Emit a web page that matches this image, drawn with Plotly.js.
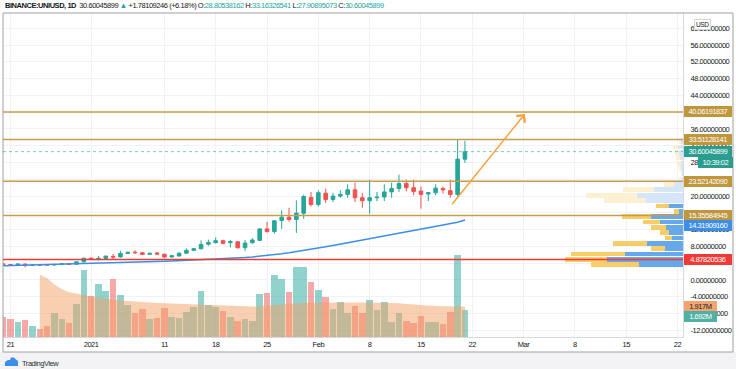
<!DOCTYPE html>
<html><head><meta charset="utf-8">
<script src="https://cdn.plot.ly/plotly-3.0.1.min.js"></script>
<style>html,body{margin:0;padding:0;background:#fff;}#chart{width:736px;height:369px;}svg text{letter-spacing:-0.45px;}</style>
</head><body><div id="chart"></div>
<script>
// ---------------- data ----------------
const dates = ['2020-12-20','2020-12-21','2020-12-22','2020-12-23','2020-12-24','2020-12-25','2020-12-26','2020-12-27','2020-12-28','2020-12-29','2020-12-30','2020-12-31',
'2021-01-01','2021-01-02','2021-01-03','2021-01-04','2021-01-05','2021-01-06','2021-01-07','2021-01-08','2021-01-09','2021-01-10','2021-01-11','2021-01-12','2021-01-13','2021-01-14','2021-01-15','2021-01-16','2021-01-17','2021-01-18','2021-01-19','2021-01-20','2021-01-21','2021-01-22','2021-01-23','2021-01-24','2021-01-25','2021-01-26','2021-01-27','2021-01-28','2021-01-29','2021-01-30','2021-01-31',
'2021-02-01','2021-02-02','2021-02-03','2021-02-04','2021-02-05','2021-02-06','2021-02-07','2021-02-08','2021-02-09','2021-02-10','2021-02-11','2021-02-12','2021-02-13','2021-02-14','2021-02-15','2021-02-16','2021-02-17','2021-02-18','2021-02-19','2021-02-20','2021-02-21'];
const open  = [3.85,3.70,3.55,3.80,3.50,3.62,3.62,3.58,3.70,3.90,3.78,4.32, 5.20,5.05,5.15,5.62,5.50,6.33,6.65,6.50,6.12,6.45,6.15,5.48,5.72,6.40,7.08,7.45,8.55,8.90,9.38,8.90,9.13,7.69,8.89,9.45,12.18,11.54,14.18,14.98,14.42,15.90,19.70, 18.00,20.70,19.20,20.00,20.40,21.50,19.60,18.90,19.60,19.80,21.00,21.80,23.00,22.00,21.20,20.50,20.80,21.80,21.30,20.40,28.80538162];
const high  = [3.95,3.80,3.85,3.90,3.62,3.75,3.80,3.90,3.95,4.00,4.45,5.30, 5.32,5.70,5.80,6.20,6.95,6.75,7.10,6.62,6.50,6.65,6.25,5.95,6.55,7.55,7.60,9.45,9.62,10.17,9.60,9.54,9.30,9.54,9.94,12.30,13.86,14.30,16.59,17.23,18.99,20.35,21.00, 21.40,21.80,20.80,21.40,22.80,23.20,20.80,23.90,21.00,22.80,23.20,25.10,23.90,23.90,22.30,21.00,22.80,22.30,23.90,33.60,33.16326541];
const low   = [3.55,3.50,3.50,3.00,3.40,3.45,3.42,3.45,3.60,3.60,3.70,4.20, 4.90,4.65,5.00,4.90,5.30,6.20,6.20,5.90,6.00,6.00,5.25,5.30,5.60,6.30,6.95,7.30,8.17,8.70,8.50,7.77,7.50,6.89,8.60,9.30,11.30,11.06,12.20,13.86,11.22,14.60,17.50, 17.50,18.40,18.60,19.60,19.60,18.60,17.20,15.80,18.80,18.80,19.60,21.00,21.10,20.20,17.00,18.80,20.20,20.60,19.60,19.90,27.90895073];
const close = [3.65,3.60,3.80,3.50,3.56,3.55,3.56,3.68,3.88,3.75,4.32,5.20, 5.05,5.15,5.70,5.48,6.33,6.60,6.52,6.10,6.35,6.18,5.48,5.77,6.40,7.05,7.45,8.49,8.95,9.38,8.73,9.13,7.69,8.81,9.54,12.18,11.54,14.10,14.98,14.42,15.94,19.90,18.00, 20.80,19.20,20.00,20.40,21.50,19.60,18.90,19.60,19.75,21.00,21.80,23.00,22.00,21.10,20.40,20.80,21.90,21.50,20.40,28.81936653,30.60045899];
// volume in millions
const volume = [1.25,1.12,0.97,1.08,0.70,0.53,0.70,1.54,1.14,0.87,2.09,4.24, 2.61,3.35,2.91,3.65,2.66,2.03,1.54,1.75,1.12,1.18,1.82,1.25,1.18,1.58,1.88,2.91,2.03,1.88,1.65,1.25,1.01,1.12,1.03,2.70,2.77,3.92,3.67,2.85,4.39,4.39,3.46, 2.97,2.49,1.75,2.20,1.50,1.96,1.54,2.34,1.69,2.20,0.97,1.54,1.01,0.87,1.35,0.97,0.97,0.82,1.60,5.19,1.692];
const volumeMA = [null,null,null,null,null,3.92,3.70,3.30,3.00,2.82,2.72,2.62, 2.55,2.47,2.40,2.35,2.30,2.26,2.22,2.19,2.16,2.14,2.12,2.10,2.08,2.06,2.04,2.02,2.00,1.98,1.96,1.94,1.93,1.92,1.92,1.93,1.97,2.03,2.07,2.10,2.13,2.15,2.16, 2.17,2.17,2.17,2.17,2.17,2.18,2.18,2.18,2.17,2.16,2.14,2.12,2.08,2.04,2.00,1.97,1.95,1.93,1.92,1.92,1.917];
const priceMA = [3.42,3.46,3.50,3.54,3.58,3.62,3.66,3.70,3.74,3.78,3.82,3.86, 3.90,3.95,4.00,4.05,4.10,4.16,4.22,4.28,4.34,4.40,4.47,4.54,4.61,4.68,4.76,4.84,4.92,5.00,5.08,5.17,5.26,5.36,5.50,5.66,5.84,6.04,6.26,6.50,6.76,7.02,7.30, 7.60,7.92,8.24,8.56,8.88,9.20,9.52,9.84,10.16,10.48,10.80,11.12,11.44,11.76,12.06,12.36,12.66,12.96,13.28,13.78,14.31909160];
// visible-range volume profile (price rows, up / down volume, arbitrary units)
const profilePrice = [3.64,4.91,6.19,7.46,8.74,10.01,11.29,12.56,13.84,15.11,16.39,17.66,18.94,20.21,21.49,22.76,24.04,25.31,26.59,27.86,29.14,30.41,31.69,32.96];
const profileUp    = [44,76,58,17.7,35.7,10.7,13.7,17.3,23,32.3,4.3,13.7,37,45.7,29,9,1.3,1.3,1.7,2.3,3,3.7,4.7,2];
const profileDown  = [48,42,54,14.3,34.7,7,9.3,14.3,16.7,28.3,4.7,13.3,41.7,51.3,30.7,9.7,2.7,0.7,2.7,4,4,4.3,5,2];
const profileValueArea = [1,1,1,1,1,1,1,1,1,1,1,1,0,0,0,0,0,0,0,0,0,0,0,0];
// drawn levels
const resistanceLevels = [40.06191837, 33.51128141, 23.52142090, 15.35584945];
const supportLevel = 4.87820536;
const maLast = 14.31909160;
const volMALastLabel = '1.917M', volLastLabel = '1.692M';
const countdown = '10:39:02';
const arrowFrom = ['2021-02-19 02:00', 17.7];
const arrowTo = ['2021-03-01 04:30', 39.6];
// ticks (labels hidden behind the price boxes in the reference are left blank)
const xTickVals = ['2020-12-21','2021-01-01','2021-01-11','2021-01-18','2021-01-25','2021-02-01','2021-02-08','2021-02-15','2021-02-22','2021-03-01','2021-03-08','2021-03-15','2021-03-22'];
const xTickText = ['21','2021','11','18','25','Feb','8','15','22','Mar','8','15','22'];
const yTickVals = [-12,-8,-4,0,4,8,12,16,20,24,28,32,36,40,44,48,52,56,60];
const yTickText = ['-12.00000000','-8.00000000','-4.00000000','0.00000000','','8.00000000','12.00000000','','20.00000000','','28.00000000','32.00000000','36.00000000','','44.00000000','48.00000000','52.00000000','56.00000000','60.00000000'];

// ---------------- styling ----------------
const FONT = "'Liberation Sans',Arial,sans-serif";
const FS = 7.5;
const UP = '#26a69a', DOWN = '#ef5350', GOLD = '#c59d4f', GOLDBOX = '#bf963c', RED = '#f03a36';
const W = 736, H = 369, ML = 3, MR = 53, MT = 13, MB = 32;
const PW = W - ML - MR, PH = H - MT - MB;
const px = x => (x - ML) / PW;
const py = y => (H - MB - y) / PH;

const n = dates.length;
const last = n - 1;
const chg = close[last] - close[last - 1];
const pct = chg / close[last - 1] * 100;

const volColors = close.map((c, i) => c >= open[i] ? 'rgba(38,166,154,0.5)' : 'rgba(239,83,80,0.5)');
const upColors = profileValueArea.map(v => v ? '#67a8ea' : '#d4e6f8');
const downColors = profileValueArea.map(v => v ? '#f6cd68' : '#fdf0d2');

const traces = [
  {type:'bar', x: dates, y: volume, xaxis:'x', yaxis:'y2', marker:{color: volColors, line:{width:0}}, hoverinfo:'skip'},
  {type:'scatter', mode:'lines', x: dates, y: volumeMA, xaxis:'x', yaxis:'y2', fill:'tozeroy', fillcolor:'rgba(241,160,99,0.5)', line:{width:0, color:'rgba(241,160,99,0.5)'}, hoverinfo:'skip'},
  {type:'bar', orientation:'h', y: profilePrice, x: profileUp, xaxis:'x2', yaxis:'y', marker:{color: upColors, line:{width:0}}, hoverinfo:'skip'},
  {type:'bar', orientation:'h', y: profilePrice, x: profileDown, xaxis:'x2', yaxis:'y', marker:{color: downColors, line:{width:0}}, hoverinfo:'skip'},
  {type:'scatter', mode:'lines', x: dates, y: priceMA, xaxis:'x', yaxis:'y', line:{color:'#3c8ee8', width:1.5}, hoverinfo:'skip'},
  {type:'candlestick', x: dates, open: open, high: high, low: low, close: close, xaxis:'x', yaxis:'y',
   increasing:{line:{color:UP, width:1}, fillcolor:UP}, decreasing:{line:{color:DOWN, width:1}, fillcolor:DOWN},
   whiskerwidth:0, hoverinfo:'skip'}
];

const shapes = [];
// bottom strip + frame
shapes.push({type:'rect', xref:'paper', yref:'paper', x0:px(0), x1:px(W), y0:py(352), y1:py(H), fillcolor:'#f3f3f5', line:{width:0}, layer:'below'});
shapes.push({type:'rect', xref:'paper', yref:'paper', x0:px(3), x1:px(733), y0:py(13), y1:py(352), line:{color:'#a0a0a0', width:1}, fillcolor:'rgba(0,0,0,0)', layer:'above'});
resistanceLevels.forEach(v => shapes.push({type:'line', xref:'paper', yref:'y', x0:0, x1:1, y0:v, y1:v, line:{color:GOLD, width:1.5}, layer:'above'}));
shapes.push({type:'line', xref:'paper', yref:'y', x0:0, x1:1, y0:supportLevel, y1:supportLevel, line:{color:RED, width:1.5}, layer:'above'});
shapes.push({type:'line', xref:'paper', yref:'y', x0:0, x1:1, y0:close[last], y1:close[last], line:{color:UP, width:1, dash:'dot'}, opacity:0.6, layer:'above'});
// TradingView logo (cloud)
const cloudPts = [[5,366],[5,362],[8,360],[10,360],[11,357.5],[14,357.5],[16,359.5],[18,361],[18,366]];
shapes.push({type:'path', xref:'paper', yref:'paper', path: 'M' + cloudPts.map(p => px(p[0]).toFixed(5) + ',' + py(p[1]).toFixed(5)).join('L') + 'Z', fillcolor:'#3d8ee8', line:{width:0}});

function label(text, y, yref, bg, fg, yshift, xPix) {
  return {xref:'paper', yref: yref, x: px(xPix || 684), y: y, xanchor:'left', yanchor:'middle', yshift: yshift || 0,
          text: text, showarrow:false, bgcolor: bg, bordercolor: bg, borderwidth:0, borderpad:1,
          width: 46, height: 8.5, align:'center', font:{family:FONT, size:FS, color: fg}};
}
const annotations = [];
resistanceLevels.forEach(v => annotations.push(label(v.toFixed(8), v, 'y', GOLDBOX, '#ffffff')));
annotations.push(label(close[last].toFixed(8), close[last], 'y', '#2a9d8f', '#ffffff'));
annotations.push(Object.assign(label(countdown, close[last], 'y', '#2a9d8f', '#ffffff', -10.5, 698), {width: 33}));
annotations.push(label(maLast.toFixed(8), maLast, 'y', '#3d8ee8', '#ffffff', -6));
annotations.push(label(supportLevel.toFixed(8), supportLevel, 'y', RED, '#ffffff'));
annotations.push(Object.assign(label(volMALastLabel, volumeMA[last], 'y2', '#f4a56f', '#1e222d'), {width: 31}));
annotations.push(Object.assign(label(volLastLabel, volume[last], 'y2', '#4fb1a4', '#ffffff', -6), {width: 31}));
// USD
annotations.push({xref:'paper', yref:'paper', x: px(711), y: py(19.5), text:'USD', showarrow:false, font:{family:FONT, size:6.5, color:'#131722'}, bgcolor:'#ffffff', bordercolor:'#d6d6d6', borderwidth:1, borderpad:1});
// header
const tl = c => `<span style="color:${UP}">${c}</span>`;
const headerText = `<b>BINANCE:UNIUSD, 1D</b>  ${close[last].toFixed(8)} ${tl('▲')} +${chg.toFixed(8)} (+${pct.toFixed(2)}%) O:${tl(open[last].toFixed(8))} H:${tl(high[last].toFixed(8))} L:${tl(low[last].toFixed(8))} C:${tl(close[last].toFixed(8))}`;
annotations.push({xref:'paper', yref:'paper', x: px(3), y: py(5.5), xanchor:'left', yanchor:'middle', text: headerText, showarrow:false, font:{family:FONT, size:FS, color:'#131722'}});
// footer
annotations.push({xref:'paper', yref:'paper', x: px(20), y: py(363), xanchor:'left', yanchor:'middle', text:'TradingView', showarrow:false, font:{family:FONT, size:FS, color:'#2a2e39'}});
// arrow
annotations.push({xref:'x', yref:'y', axref:'x', ayref:'y', x: arrowTo[0], y: arrowTo[1], ax: arrowFrom[0], ay: arrowFrom[1], text:'', showarrow:true, arrowhead:4, arrowsize:1.4, arrowwidth:1.5, arrowcolor:'#f6a23c', standoff:0, startstandoff:0});

const layout = {
  width: W, height: H, margin:{l:ML, r:MR, t:MT, b:MB, pad:0},
  paper_bgcolor:'#ffffff', plot_bgcolor:'#ffffff', showlegend:false,
  barmode:'stack', bargap:0.1,
  font:{family:FONT, size:FS, color:'#131722'},
  xaxis:{type:'date', range:['2020-12-19 23:27','2021-03-22 18:00'], tickvals:xTickVals, ticktext:xTickText, ticks:'',
         showgrid:true, gridcolor:'#f0f2f6', gridwidth:1, zeroline:false, showline:true, linecolor:'#d6d9e0', linewidth:1,
         rangeslider:{visible:false}, tickfont:{family:FONT, size:FS, color:'#131722'}, fixedrange:true},
  xaxis2:{overlaying:'x', range:[680, 0], visible:false, fixedrange:true},
  yaxis:{side:'right', range:[-13.59, 63.65], tickvals:yTickVals, ticktext:yTickText, ticks:'', ticklabelstandoff:5,
         showgrid:true, gridcolor:'#f0f2f6', gridwidth:1, zeroline:false, showline:true, linecolor:'#d6d9e0', linewidth:1,
         tickfont:{family:FONT, size:FS, color:'#131722'}, fixedrange:true},
  yaxis2:{overlaying:'y', range:[0, 20.4], visible:false, fixedrange:true},
  shapes: shapes, annotations: annotations
};
Plotly.newPlot('chart', traces, layout, {staticPlot:true, displayModeBar:false});
</script></body></html>
